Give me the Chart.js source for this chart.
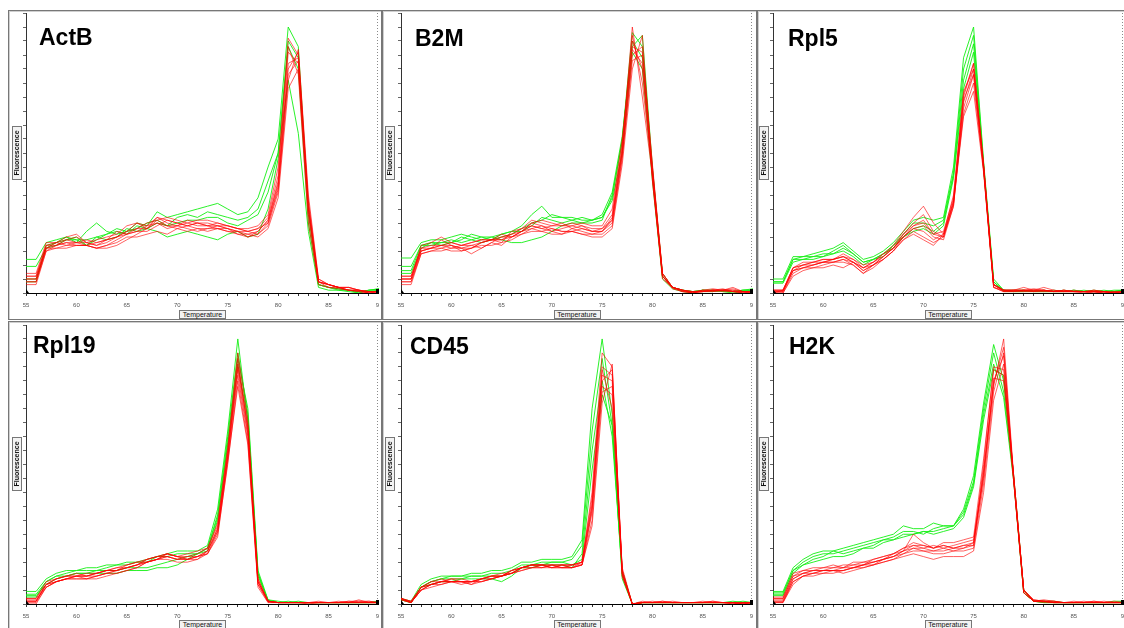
<!DOCTYPE html>
<html>
<head>
<meta charset="utf-8">
<script src="https://cdn.jsdelivr.net/npm/chart.js@4.4.0/dist/chart.umd.min.js"></script>
<style>
  html, body { margin:0; padding:0; background:#fff; }
  body { width:1124px; height:628px; overflow:hidden; position:relative; font-family:"Liberation Sans", Arial, sans-serif; }
  .panel { position:absolute; box-sizing:border-box; border:1px solid #777; box-shadow: inset 1px 1px 0 #cfcfcf; background:#fff; }
  canvas { position:absolute; }
  .gene { position:absolute; font-weight:bold; font-size:23px; line-height:23px; color:#000; white-space:nowrap; }
  .tlab { position:absolute; box-sizing:border-box; height:9px; width:47px; border:1px solid #777; background:#f3f3f3; font-size:7px; line-height:7px; text-align:center; color:#111; }
  .flab { position:absolute; box-sizing:border-box; width:54px; height:10px; border:1px solid #777; background:#f3f3f3; font-size:7px; line-height:8px; text-align:center; color:#111; font-weight:bold; transform:rotate(-90deg); transform-origin:50% 50%; }
</style>
</head>
<body>
<script>
// ---------------- DATA ----------------
const temps = [55,56,57,58,59,60,61,62,63,64,65,66,67,68,69,70,71,72,73,74,75,76,77,78,79,80,81,82,83,84,85,86,87,88,89,90];
const xTickLabels = [55,60,65,70,75,80,85,90];
const geneNames = ["ActB","B2M","Rpl5","Rpl19","CD45","H2K"];

const actbGreen = [
  [12,12,18,19,20,18,22,25,22,21, 22,25,24,29,27,28,29,30,31,32, 30,28,29,34,45,55,95,88,30,3, 2,1.5,1,0.5,1,1.5],
  [9.5,9.5,16,17,19,20,17,19,21,23, 22,23,25,26,24,27,28,27,29,28, 27,26,27,30,40,50,88,80,25,3, 2,1,1,0,1,1],
  [4,4,17,18,19,19,19,20,21,22, 21,24,23,22,20,21,22,21,20,19, 21,22,20,21,30,48,76,57,22,2, 1,1,0.5,0,1,1.5],
  [5,5,16,18,20,19,17,20,19,20, 23,22,23,25,24,25,26,26,27,27, 25,24,26,28,36,50,90,84,28,3, 2,1.5,1,0.5,0.5,1]
];
const actbRed = [
  [7,7,18,18,20,21,18,19,20,21, 24,25,24,27,26,25,24,25,24,25, 24,23,22,23,27,42,91,85,28,4, 3,2,2,1,0.5,0.5],
  [6,6,17,17,18,18,18,17,18,20, 22,23,25,26,27,26,25,24,24,23, 23,22,21,22,26,40,86,82,30,4, 3,2,1,1,0.5,0.5],
  [5,5,16,16,17,17,17,16,17,19, 21,22,22,24,26,25,24,25,25,24, 24,23,22,21,25,38,80,86,33,5, 3,2,2,1,0.5,0.5],
  [4,4,15,16,16,17,17,16,16,17, 19,21,23,25,24,24,23,22,23,23, 22,22,20,21,24,36,76,87,35,5, 3,2,1,1,0,0.5],
  [3,3,15,17,18,17,17,16,17,18, 20,20,21,22,21,23,22,23,22,23, 22,21,21,20,23,34,73,80,30,4, 2,2,1,1,0,0],
  [6,6,17,18,19,18,17,18,19,20, 22,25,23,27,25,24,25,26,26,25, 24,23,23,24,28,45,88,78,25,3, 2,1.5,1,0.5,0,0.5],
  [5,5,16,17,19,20,18,17,19,22, 21,22,24,25,23,24,26,25,24,24, 23,21,20,22,26,39,82,84,32,4, 3,2,2,1,0.5,0.5],
  [4,4,16,18,17,18,19,18,19,20, 21,23,23,26,24,23,24,23,23,24, 23,22,22,23,25,37,78,83,31,4, 3,2,1,0.5,0,0]
];

const b2mGreen = [
  [12.5,12.5,18,19,19,20,21,20,19,20, 21,22,24,28,31,27,27,26,27,26, 28,36,56,88,92,45,6,2,1,0.5, 1,1,0.5,0.5,1,1.5],
  [9.5,9.5,17,18,17,18,19,21,20,19, 20,21,23,25,26,28,27,27,26,26, 27,34,55,93,88,43,7,2,1,0.5, 1,0.5,1,0.5,1,1],
  [7,7,16,18,18,19,18,19,20,20, 19,18,18,19,20,22,24,25,25,26, 27,33,50,86,80,40,5,1.5,0.5,0, 1,1,0.5,0,0.5,1],
  [8,8,17,17,18,18,20,19,18,19, 21,22,22,24,27,26,25,26,25,25, 26,35,54,90,84,44,6,2,1,0.5, 0.5,0.5,1,0.5,1,1]
];
const b2mRed = [
  [6,6,15,16,19,17,16,17,18,19, 21,20,22,23,24,23,22,22,23,22, 22,27,52,95,70,42,6,2,1,0, 1,1.5,1,1.5,0.5,0.5],
  [5,5,15,16,16,17,15,16,18,19, 19,21,22,24,23,24,25,23,24,22, 22,26,50,90,80,44,7,2,0.5,0.5, 0.5,1,1.5,0.5,0,0.5],
  [4,4,14,15,15,16,16,14,16,18, 17,20,22,25,24,22,21,23,22,21, 21,24,48,85,88,45,7,2,1,0, 0.5,1,1,1,0.5,0],
  [3,3,14,15,16,15,15,16,17,17, 18,19,21,22,22,21,21,22,21,20, 20,23,46,80,92,40,6,1.5,0.5,0, 1,0.5,1,0.5,0,0.5],
  [5,5,17,18,20,18,17,18,19,19, 20,21,23,26,25,24,24,25,24,23, 23,28,53,92,75,43,6,2,1,0.5, 0.5,1,1,2,0.5,0.5],
  [6,6,16,17,17,18,17,18,19,19, 19,20,22,25,26,25,24,24,25,24, 24,30,55,88,86,46,7,2,1,0.5, 1,1,1,0.5,0.5,0.5],
  [4,4,15,16,17,16,17,17,16,18, 20,20,21,23,22,23,22,22,21,21, 22,25,49,83,85,41,6,2,0.5,0, 0.5,0.5,1,1,0,0],
  [5,5,16,16,17,17,16,16,18,19, 18,22,23,24,23,22,23,24,23,22, 23,26,51,87,82,42,5,2,1,0.5, 0.5,1,0.5,0.5,0.5,0.5]
];

const rpl5Green = [
  [5,5,13,13,14,15,16,18,15,12, 13,15,18,22,26,27,26,27,45,84, 95,47,5,1,1,1,0.5,1,0.5,0.5, 0.5,1,0.5,1,0.5,1],
  [4,4,12,13,13,13,15,17,14,11, 12,14,17,21,25,25,24,26,43,80, 92,46,4,1,0.5,0.5,1,0.5,1,0.5, 1,0.5,0.5,0.5,1,1],
  [3.5,3.5,11,12,12,13,14,15,13,10, 12,14,16,20,23,24,22,25,42,76, 89,45,4,0.5,0.5,1,0.5,0.5,0.5,1, 0.5,0.5,1,0.5,0.5,1],
  [4,4,12,12,13,14,14,16,14,11, 12,13,17,20,22,23,21,24,41,73, 86,44,3,1,0.5,0.5,0.5,0.5,0.5,0.5, 1,0.5,0.5,0.5,0.5,1]
];
const rpl5Red = [
  [1,1,9,10,11,11,12,14,12,9, 11,14,17,22,27,31,25,21,33,70, 82,46,3,1,1,2,1,1,0.5,1, 0.5,0.5,0.5,0.5,0,0.5],
  [0.5,0.5,8,9,10,11,12,13,11,8, 10,13,16,21,25,28,22,20,32,68, 80,45,3,0.5,0.5,1,1,2,1,0.5, 0.5,0.5,1,0.5,0,0],
  [0,0,7,9,9,10,11,12,10,7, 10,12,15,20,23,24,20,19,31,66, 78,44,2,1,1,1,0.5,1,0.5,0.5, 1,0.5,0.5,0,0.5,0.5],
  [0,1,8,9,10,11,11,11,10,7, 9,12,15,19,22,20,18,20,33,64, 75,44,2,0.5,0.5,0.5,1,0.5,0.5,0.5, 0.5,0.5,0,0.5,0,0.5],
  [1,1,9,11,11,12,12,13,11,9, 11,14,16,21,24,25,21,22,34,72, 80,45,3,1,1,1,1,1,0.5,1, 0.5,0.5,0.5,0.5,0,0.5],
  [0,0,6,8,9,9,10,9,11,8, 10,12,15,19,21,19,17,21,32,63, 72,43,2,0.5,1,0.5,0.5,0.5,1,0.5, 0.5,0,0.5,0,0,0],
  [0.5,0.5,8,10,10,11,11,12,11,9, 10,13,16,20,24,26,21,20,31,69, 78,45,3,1,0.5,1,1.5,1,0.5,1, 0.5,0.5,1,0.5,0.5,0.5],
  [1,1,9,10,11,12,12,13,12,10, 11,13,16,20,23,22,19,21,35,71, 82,46,3,1,1,1,0.5,1,0.5,0.5, 0.5,0.5,0.5,0.5,0,0.5]
];

const rpl19Green = [
  [4.5,4.5,9,11,12,12,13,13,14,14, 15,15,16,17,18,19,19,19,21,34, 62,95,65,10,1.5,0.5,0.5,1,0.5,0.5, 0.5,0.5,0.5,0.5,0.5,1],
  [3.5,3.5,8,10,11,12,12,12,13,14, 14,15,15,17,17,18,18,18,20,32, 60,90,68,11,1,0.5,1,0.5,0.5,0.5, 0.5,0.5,0.5,0.5,0.5,0.5],
  [3,3,7,9,10,11,11,12,12,12, 13,13,13,14,15,16,17,18,19,30, 58,88,70,12,1.5,1,0.5,0.5,0.5,0.5, 0.5,0.5,0.5,0.5,0.5,0.5],
  [2.5,2.5,8,10,10,11,11,11,11,11, 12,12,12,13,13,14,16,18,20,31, 57,86,66,11,1,0.5,0.5,0.5,0.5,0.5, 0.5,0.5,0.5,0.5,0.5,1]
];
const rpl19Red = [
  [2,2,7,9,10,10,10,11,12,13, 14,15,16,17,18,17,17,18,20,28, 55,88,62,8,1,0.5,0.5,0.5,0.5,0.5, 0.5,0.5,1,1,0.5,0.5],
  [1.5,1.5,6,8,9,10,9,10,11,12, 13,14,15,16,17,16,16,17,19,27, 54,85,64,9,1,0.5,0.5,0.5,0.5,0.5, 0.5,0.5,0.5,1,1,0.5],
  [1,1,7,9,10,10,11,11,12,12, 13,14,16,17,17,16,16,17,18,26, 52,82,60,7,0.5,0.5,0.5,0.5,0.5,1, 0.5,0.5,0.5,1.5,0.5,0.5],
  [0,0,6,8,9,9,9,10,11,11, 12,13,15,16,18,17,16,17,18,25, 50,80,58,7,1,0.5,0.5,0.5,0,0.5, 0.5,0.5,0.5,0.5,0.5,0.5],
  [1,1,7,8,9,10,10,10,11,12, 14,15,15,16,17,16,17,17,19,27, 53,86,63,8,1,0.5,0.5,0.5,0.5,0.5, 0.5,1,0.5,0.5,0.5,0.5],
  [2,2,8,9,10,11,10,11,12,13, 13,14,16,17,18,17,18,19,20,29, 56,90,66,9,1,0.5,0.5,0.5,0.5,0.5, 0.5,0.5,0.5,0.5,0.5,0.5],
  [0.5,0.5,6,8,9,9,9,9,10,11, 12,13,15,16,16,15,15,16,18,24, 51,78,57,6,0.5,0.5,0.5,0.5,0.5,0.5, 0.5,0.5,0.5,0.5,0.5,0.5],
  [1,1,7,8,9,10,10,11,12,12, 13,14,15,16,18,17,16,16,19,26, 53,84,61,8,1,0.5,0.5,0.5,0.5,0.5, 0.5,0.5,1,0.5,1,0.5]
];

const cd45Green = [
  [2,1,7,9,10,10,10,11,11,12, 12,13,15,15,16,16,16,17,23,70, 95,68,12,0,0.5,0.5,0.5,0.5,0.5,0.5, 0.5,0.5,0.5,1,0.5,0.5],
  [2,0.5,6,8,9,10,10,10,10,11, 11,12,14,14,15,15,15,16,21,62, 88,64,10,0,0.5,0.5,0.5,0.5,0.5,0.5, 0.5,0.5,0.5,0.5,1,0.5],
  [1.5,0.5,6,7,8,8,9,9,9,9, 8,10,13,13,14,14,14,13,18,55, 80,60,11,0,0.5,0.5,0.5,0.5,0.5,0.5, 0.5,0.5,0.5,0.5,0.5,0.5],
  [1.5,0.5,6,8,9,9,9,10,10,10, 10,11,13,14,14,15,15,14,16,48, 75,64,9,0,0.5,0.5,0.5,0.5,0.5,0.5, 0.5,0.5,0.5,0.5,0.5,0.5]
];
const cd45Red = [
  [2,0.5,6,7,8,9,8,7,9,10, 10,11,13,14,14,14,13,13,15,40, 90,85,12,0,0.5,1,0.5,0.5,0.5,0.5, 0.5,1,0.5,0.5,0,0.5],
  [2,0.5,5,7,8,8,8,8,8,9, 10,12,13,14,13,13,14,14,15,36, 85,82,11,0,0.5,0.5,1,0.5,0.5,0.5, 1,0.5,0.5,0,0.5,0.5],
  [2,1,6,8,9,8,7,8,9,10, 11,11,12,13,14,13,13,14,14,34, 80,84,11,0,0.5,0.5,0.5,0.5,0.5,0.5, 0.5,0.5,0.5,0.5,0,0.5],
  [1.5,0.5,5,6,7,8,8,7,8,9, 10,12,13,13,13,14,13,13,14,30, 76,78,10,0,0.5,0.5,0.5,1,0.5,0.5, 0.5,0.5,0.5,0.5,0,0],
  [2,0.5,5,7,8,8,8,8,9,9, 10,11,13,14,14,13,14,14,15,38, 82,80,12,0,0.5,0.5,0.5,0.5,0.5,0.5, 0.5,0.5,0.5,0.5,0.5,0.5],
  [2,1,6,7,8,8,8,8,9,10, 10,11,12,13,13,14,14,13,14,28, 72,86,10,0,1,0.5,0.5,0.5,0.5,0.5, 0.5,1,0.5,0.5,0,0.5],
  [1.5,0.5,5,7,7,8,8,8,8,9, 10,11,13,14,14,13,13,13,14,33, 78,75,11,0,0.5,0.5,0.5,0.5,0.5,0.5, 0.5,0.5,0.5,0.5,0.5,0.5],
  [2,0.5,6,8,8,9,9,8,9,10, 10,12,13,14,14,14,14,14,15,35, 84,70,13,0,0.5,0.5,1,0.5,0.5,0.5, 0.5,0.5,0.5,0,0.5,0.5]
];

const h2kGreen = [
  [4.5,4.5,13,16,18,19,19,20,21,22, 23,24,25,28,27,27,29,28,28,34, 46,72,93,80,46,5,1,1,1,0.5, 0.5,0.5,0.5,0.5,1,1],
  [4,4,12,15,17,18,18,19,20,21, 22,23,24,26,26,25,27,28,28,33, 44,70,90,76,45,5,1,1,0.5,0.5, 0.5,0.5,0.5,0.5,0.5,1],
  [3.5,3.5,12,14,16,17,19,18,19,20, 21,23,23,25,25,26,26,27,28,32, 43,68,86,74,44,4,1,0.5,0.5,0.5, 0.5,0.5,0.5,0.5,0.5,0.5],
  [3,3,11,14,15,16,17,17,18,20, 20,22,23,24,25,26,25,26,27,31, 42,66,84,82,45,4,1,0.5,0.5,0.5, 0.5,0.5,0.5,0.5,0.5,0.5]
];
const h2kRed = [
  [2.5,2.5,11,12,13,13,14,13,15,15, 16,17,18,20,22,21,20,21,20,21, 22,48,78,95,46,5,1,1.5,1,0.5, 0.5,0.5,1,0.5,1,0.5],
  [2,2,10,11,12,12,13,14,14,15, 15,16,17,19,21,20,19,20,21,22, 23,45,80,89,45,5,1,1,1,0.5, 0.5,1,0.5,0.5,0.5,0.5],
  [1.5,1.5,9,11,11,12,12,12,13,14, 15,16,18,19,25,22,20,21,20,21, 21,50,85,84,46,5,1.5,1,0.5,0.5, 1,0.5,0.5,1,0.5,0.5],
  [1,1,8,10,11,11,12,11,12,13, 14,15,16,18,19,19,18,18,19,19, 20,43,76,90,45,4,1,1,0.5,0.5, 0.5,0.5,0.5,0.5,0.5,0.5],
  [0.5,0.5,7,10,10,11,11,12,13,13, 14,15,16,17,18,17,16,17,17,17, 19,40,73,86,44,4,1,0.5,0.5,0.5, 0.5,0.5,0.5,0.5,0.5,0.5],
  [2,2,10,12,12,13,13,13,14,14, 16,17,18,20,21,21,20,22,22,23, 24,52,84,82,46,5,1.5,1,1,0.5, 0.5,0.5,0.5,0.5,0.5,0.5],
  [1,1,9,11,12,12,12,13,13,14, 14,16,17,19,20,19,19,19,20,20, 21,46,79,92,45,4,1,1,0.5,0.5, 0.5,0.5,1,0.5,0.5,0.5],
  [0.5,0.5,8,10,11,12,12,12,13,14, 15,16,17,18,20,20,21,20,19,20, 22,47,81,80,44,5,1,1,0.5,0.5, 0.5,0.5,0.5,0.5,0.5,0.5]
];

const panelGreen = [actbGreen, b2mGreen, rpl5Green, rpl19Green, cd45Green, h2kGreen];
const panelRed   = [actbRed, b2mRed, rpl5Red, rpl19Red, cd45Red, h2kRed];

// ---------------- LAYOUT ----------------
const layout = [
  {box:[8,10,374,310],   cv:[9,11,370,308],   padTop:2, xH:26, gene:[39,26],  tcx:202.5, ty:310, fc:[17,153]},
  {box:[382,10,375,310], cv:[384,11,369,308], padTop:2, xH:26, gene:[415,27], tcx:577,   ty:310, fc:[390,153]},
  {box:[757,10,380,310], cv:[756,11,368,308], padTop:2, xH:26, gene:[788,27], tcx:948,   ty:310, fc:[764,153]},
  {box:[8,321,374,320],  cv:[9,322,370,306],  padTop:3, xH:24, gene:[33,334], tcx:202.5, ty:620, fc:[17,464]},
  {box:[382,321,375,320],cv:[384,322,369,306],padTop:3, xH:24, gene:[410,335],tcx:577,   ty:620, fc:[390,464]},
  {box:[757,321,380,320],cv:[756,322,368,306],padTop:3, xH:24, gene:[789,335],tcx:948,   ty:620, fc:[764,464]}
];

const extras = {
  id: 'extras',
  afterDraw(chart) {
    const {ctx, chartArea: a} = chart;
    ctx.save();
    ctx.strokeStyle = '#8a8a8a';
    ctx.lineWidth = 1;
    ctx.setLineDash([1, 2]);
    ctx.beginPath();
    ctx.moveTo(Math.round(a.right) - 1.5, a.top);
    ctx.lineTo(Math.round(a.right) - 1.5, a.bottom);
    ctx.stroke();
    ctx.setLineDash([]);
    ctx.fillStyle = '#000';
    ctx.beginPath();
    ctx.moveTo(a.left, a.bottom - 4); ctx.lineTo(a.left + 3, a.bottom); ctx.lineTo(a.left, a.bottom); ctx.closePath();
    ctx.fill();
    ctx.fillRect(a.right - 3, a.bottom - 4, 4, 4);
    ctx.restore();
  }
};

function series(values, color) {
  return {
    data: values.map((v, j) => ({x: temps[j], y: v})),
    borderColor: color,
    borderWidth: 1,
    pointRadius: 0,
    tension: 0,
    fill: false
  };
}

const bad = [];
layout.forEach((L, i) => {
  const p = document.createElement('div');
  p.className = 'panel';
  p.style.left = L.box[0] + 'px'; p.style.top = L.box[1] + 'px';
  p.style.width = L.box[2] + 'px'; p.style.height = L.box[3] + 'px';
  document.body.appendChild(p);

  const c = document.createElement('canvas');
  c.width = L.cv[2]; c.height = L.cv[3];
  c.style.left = L.cv[0] + 'px'; c.style.top = L.cv[1] + 'px';
  c.style.width = L.cv[2] + 'px'; c.style.height = L.cv[3] + 'px';
  document.body.appendChild(c);

  const datasets = [];
  panelRed[i].forEach(s => { if (s.length !== temps.length) bad.push(geneNames[i] + ' red'); datasets.push(series(s, 'rgba(255,0,0,0.62)')); });
  panelGreen[i].forEach(s => { if (s.length !== temps.length) bad.push(geneNames[i] + ' green'); datasets.push(series(s, 'rgba(20,240,20,0.9)')); });

  new Chart(c, {
    type: 'line',
    data: { datasets },
    plugins: [extras],
    options: {
      responsive: false,
      animation: false,
      devicePixelRatio: 1,
      layout: { padding: { top: L.padTop, left: 0, right: 0, bottom: 0 } },
      plugins: { legend: { display: false }, tooltip: { enabled: false }, title: { display: false } },
      scales: {
        x: {
          type: 'linear', min: 55, max: 90,
          ticks: {
            stepSize: 1, autoSkip: false, maxRotation: 0, minRotation: 0, padding: 6,
            color: '#555', font: { size: 6, family: 'Liberation Sans' },
            callback: (v) => xTickLabels.includes(v) ? String(v) : ''
          },
          grid: { drawOnChartArea: false, drawTicks: true, tickLength: 3, color: '#333' },
          border: { color: '#000', width: 1 },
          afterFit: (s) => { s.height = L.xH; s.paddingLeft = 0; s.paddingRight = 0; }
        },
        y: {
          min: 0, max: 100,
          ticks: { display: false, stepSize: 5 },
          grid: { drawOnChartArea: false, drawTicks: true, tickLength: 3, color: '#666' },
          border: { color: '#333', width: 1 },
          afterFit: (s) => { s.width = 17; }
        }
      }
    }
  });

  const g = document.createElement('div');
  g.className = 'gene';
  g.textContent = geneNames[i];
  g.style.left = L.gene[0] + 'px'; g.style.top = L.gene[1] + 'px';
  document.body.appendChild(g);

  const t = document.createElement('div');
  t.className = 'tlab';
  t.textContent = 'Temperature';
  t.style.left = (L.tcx - 23.5) + 'px'; t.style.top = L.ty + 'px';
  document.body.appendChild(t);

  const f = document.createElement('div');
  f.className = 'flab';
  f.textContent = 'Fluorescence';
  f.style.left = (L.fc[0] - 27) + 'px'; f.style.top = (L.fc[1] - 5) + 'px';
  document.body.appendChild(f);
});
if (bad.length) { setTimeout(() => { throw new Error('Length mismatch: ' + bad.join(', ')); }, 0); }
</script>
</body>
</html>
